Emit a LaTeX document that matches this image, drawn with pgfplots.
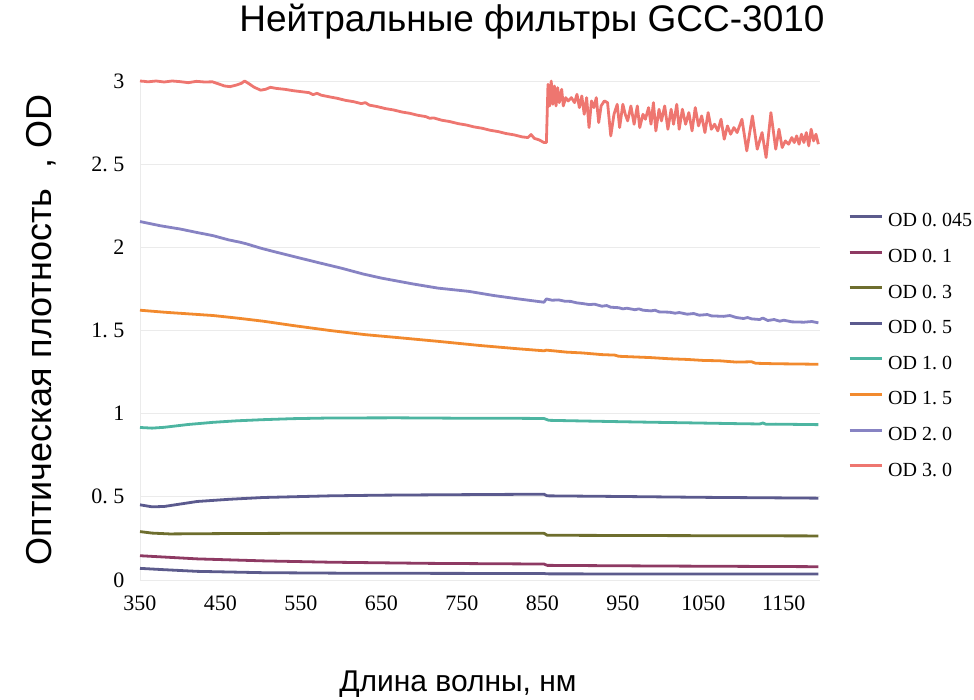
\documentclass[border=0pt]{standalone}
\usepackage{pgfplots}
\pgfplotsset{compat=1.18}
\usepackage{fontspec}
\setmainfont{Liberation Serif}
\newfontfamily\sansf{Liberation Sans}
\definecolor{cA}{HTML}{5C5B8C}
\definecolor{cB}{HTML}{8E3A63}
\definecolor{cC}{HTML}{6E6E2E}
\definecolor{cD}{HTML}{5B5A8E}
\definecolor{cE}{HTML}{4DB5A1}
\definecolor{cF}{HTML}{F28A2E}
\definecolor{cG}{HTML}{8783C3}
\definecolor{cH}{HTML}{EE7670}
\begin{document}
\begin{tikzpicture}
\useasboundingbox (-140pt,-119pt) rectangle (834pt,580pt);
\begin{axis}[
  at={(0pt,0pt)}, anchor=south west,
  scale only axis, width=680pt, height=499pt,
  xmin=350, xmax=1195, ymin=0, ymax=3,
  clip=false,
  xtick={350,450,550,650,750,850,950,1050,1150},
  ytick={0,0.5,1,1.5,2,2.5,3},
  yticklabels={0,0.\ 5,1,1.\ 5,2,2.\ 5,3},
  major tick length=0pt,
  ymajorgrids,
  grid style={draw=black!8, line width=0.8pt},
  axis x line*=bottom, axis y line*=left,
  axis line style={draw=black!8, line width=0.8pt, -},
  /pgf/number format/assume math mode=true,
  /pgf/number format/1000 sep={},
  tick label style={font=\fontsize{22}{22}\selectfont},
  xticklabel style={yshift=-12pt},
  yticklabel style={xshift=-12pt},
  title={Нейтральные фильтры GCC-3010},
  title style={font=\sansf\fontsize{37}{37}\selectfont, at={(axis description cs:0.5765,1.087)}, anchor=base},
  xlabel={Длина волны, нм},
  xlabel style={font=\sansf\fontsize{30}{30}\selectfont, at={(axis description cs:0.4676,-0.2244)}, anchor=base},
  ylabel={Оптическая плотность\ \ , OD},
  ylabel style={font=\sansf\fontsize{36}{36}\selectfont, at={(axis description cs:-0.145,0.501)}, anchor=center},
  legend style={at={(axis description cs:1.0412,0.734)}, anchor=north west, draw=none, fill=none,
    font=\fontsize{20}{20}\selectfont, row sep=20.6pt, inner sep=0pt, column sep=5pt,
    nodes={inner sep=0pt, text height=13pt, text depth=2pt}},
  legend cell align=left,
  legend image code/.code={\draw[#1, line width=3pt] (0pt,5pt) -- (32pt,5pt);},
  every axis plot/.append style={line width=2.8pt, line join=round},
]
% OD 0.045
\addplot[cA] coordinates {(350,0.070) (380,0.062) (421,0.052) (503,0.044) (600,0.041) (710,0.040) (852,0.039) (856,0.037) (1000,0.036) (1193,0.036)};
% OD 0.1
\addplot[cB] coordinates {(350,0.146) (380,0.138) (421,0.127) (503,0.115) (586,0.107) (710,0.100) (852,0.096) (856,0.088) (1000,0.084) (1193,0.080)};
% OD 0.3
\addplot[cC] coordinates {(350,0.291) (365,0.282) (387,0.277) (450,0.279) (550,0.281) (700,0.281) (852,0.281) (856,0.269) (1000,0.267) (1193,0.265)};
% OD 0.5
\addplot[cD] coordinates {(350,0.452) (365,0.440) (380,0.442) (421,0.472) (460,0.485) (503,0.496) (586,0.506) (650,0.510) (710,0.512) (780,0.514) (852,0.516) (856,0.506) (950,0.502) (1050,0.497) (1193,0.492)};
% OD 1.0
\addplot[cE] coordinates {(350,0.917) (365,0.913) (380,0.918) (410,0.935) (441,0.948) (470,0.957) (503,0.964) (540,0.970) (586,0.974) (669,0.975) (772,0.972) (820,0.972) (852,0.971) (858,0.960) (900,0.956) (966,0.950) (1030,0.945) (1091,0.940) (1120,0.938) (1124,0.944) (1128,0.936) (1140,0.937) (1193,0.934)};
% OD 1.5
\addplot[cF] coordinates {(350,1.622) (380,1.610) (441,1.590) (470,1.575) (503,1.556) (540,1.530) (586,1.500) (630,1.475) (669,1.458) (720,1.435) (772,1.410) (820,1.390) (852,1.378) (855,1.382) (880,1.370) (900,1.365) (924,1.355) (940,1.352) (945,1.345) (960,1.342) (985,1.337) (1008,1.330) (1030,1.326) (1050,1.320) (1070,1.318) (1091,1.310) (1110,1.312) (1115,1.303) (1140,1.300) (1160,1.299) (1193,1.297)};
% OD 2.0
\addplot[cG] coordinates {(350,2.155) (360,2.145) (375,2.130) (400,2.110) (420,2.090) (441,2.070) (460,2.045) (475,2.030) (483,2.020) (500,1.995) (520,1.970) (545,1.940) (570,1.910) (600,1.875) (627,1.840) (650,1.815) (689,1.780) (720,1.755) (759,1.735) (790,1.710) (820,1.690) (852,1.670) (855,1.690) (862,1.682) (870,1.684) (878,1.676) (885,1.675) (893,1.666) (900,1.662) (908,1.656) (915,1.658) (924,1.646) (930,1.650) (935,1.640) (945,1.637) (950,1.630) (955,1.634) (965,1.625) (970,1.630) (975,1.622) (985,1.618) (990,1.622) (995,1.612) (1008,1.610) (1015,1.604) (1020,1.608) (1030,1.598) (1038,1.602) (1045,1.592) (1055,1.596) (1060,1.588) (1075,1.585) (1083,1.590) (1091,1.578) (1100,1.572) (1105,1.578) (1110,1.570) (1120,1.566) (1124,1.575) (1130,1.560) (1138,1.566) (1145,1.556) (1150,1.562) (1160,1.552) (1175,1.550) (1185,1.554) (1193,1.546)};
% OD 3.0
\addplot[cH] coordinates {(350,3.000) (355,2.998) (360,2.995) (370,3.000) (380,2.994) (390,3.000) (400,2.996) (410,2.990) (420,2.998) (430,2.994) (440,2.995) (448,2.982) (455,2.970) (462,2.966) (470,2.976) (476,2.986) (480,3.000) (485,2.985) (492,2.962) (500,2.945) (506,2.950) (512,2.962) (520,2.955) (530,2.950) (540,2.942) (550,2.936) (560,2.930) (565,2.918) (570,2.926) (575,2.915) (585,2.905) (595,2.896) (605,2.884) (615,2.876) (625,2.864) (630,2.870) (635,2.855) (645,2.846) (655,2.834) (665,2.826) (675,2.814) (685,2.806) (695,2.794) (705,2.786) (710,2.776) (715,2.778) (725,2.764) (735,2.756) (745,2.744) (755,2.736) (765,2.724) (775,2.716) (785,2.704) (795,2.696) (805,2.684) (815,2.676) (825,2.664) (832,2.660) (836,2.678) (840,2.655) (846,2.646) (852,2.630)
(855,2.630) (857,2.980) (859,2.850) (861,3.000) (863,2.860) (865,2.970) (867,2.850) (869,2.960) (871,2.870) (874,2.950) (876,2.850) (879,2.900) (882,2.880) (886,2.900) (890,2.870) (893,2.920) (896,2.840) (899,2.910) (902,2.800) (905,2.900) (908,2.720) (911,2.880) (914,2.840) (917,2.900) (920,2.750) (923,2.850) (927,2.880) (931,2.870) (935,2.670) (939,2.800) (943,2.860) (946,2.720) (950,2.860) (953,2.800) (956,2.760) (960,2.850) (964,2.740) (968,2.850) (971,2.720) (975,2.800) (978,2.770) (982,2.840) (985,2.740) (988,2.870) (991,2.700) (995,2.830) (998,2.760) (1002,2.850) (1006,2.710) (1010,2.830) (1013,2.740) (1017,2.860) (1020,2.710) (1024,2.830) (1028,2.740) (1032,2.810) (1036,2.700) (1040,2.840) (1044,2.730) (1048,2.790) (1052,2.690) (1056,2.810) (1060,2.710) (1064,2.740) (1068,2.700) (1072,2.770) (1076,2.650) (1080,2.730) (1084,2.680) (1088,2.720) (1092,2.690) (1098,2.770) (1104,2.580) (1111,2.790) (1117,2.590) (1123,2.690) (1128,2.540) (1134,2.810) (1140,2.590) (1144,2.710) (1148,2.600) (1152,2.640) (1156,2.620) (1160,2.660) (1163,2.630) (1166,2.670) (1169,2.620) (1172,2.680) (1175,2.630) (1178,2.690) (1181,2.610) (1184,2.710) (1187,2.640) (1190,2.680) (1193,2.620)};
\legend{OD 0.\ 045, OD 0.\ 1, OD 0.\ 3, OD 0.\ 5, OD 1.\ 0, OD 1.\ 5, OD 2.\ 0, OD 3.\ 0}
\end{axis}
\end{tikzpicture}
\end{document}
